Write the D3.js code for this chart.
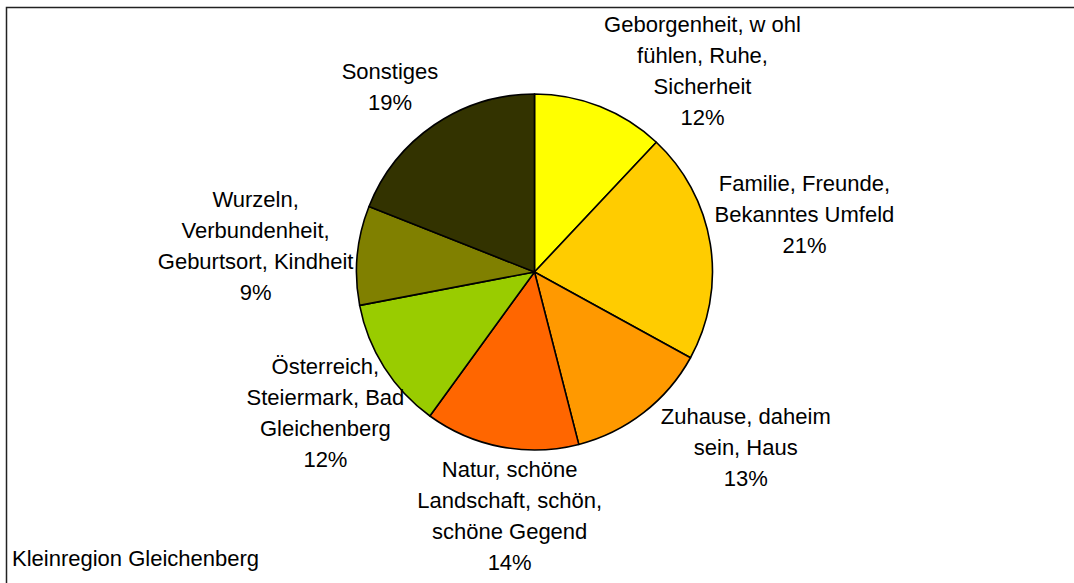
<!DOCTYPE html>
<html>
<head>
<meta charset="utf-8">
<script src="https://cdn.jsdelivr.net/npm/d3@7"></script>
<style>
  html, body { margin: 0; padding: 0; background: #fff; }
  svg { display: block; }
  text { font-family: "Liberation Sans", Arial, sans-serif; font-size: 22px; fill: #000; }
</style>
</head>
<body>
<svg id="chart" width="1074" height="583"></svg>
<script>
// Categories (each entry is one label line) and their shares in percent
const categories = [
  ["Geborgenheit, w ohl", "fühlen, Ruhe,", "Sicherheit"],
  ["Familie, Freunde,", "Bekanntes Umfeld"],
  ["Zuhause, daheim", "sein, Haus"],
  ["Natur, schöne", "Landschaft, schön,", "schöne Gegend"],
  ["Österreich,", "Steiermark, Bad", "Gleichenberg"],
  ["Wurzeln,", "Verbundenheit,", "Geburtsort, Kindheit"],
  ["Sonstiges"]
];
const shares = [12, 21, 13, 14, 12, 9, 19];
const sliceColors = ["#FFFF00", "#FFCC00", "#FF9900", "#FF6600", "#99CC00", "#808000", "#333300"];
const regionName = "Kleinregion Gleichenberg";

// Layout
const W = 1074, H = 583;
const cx = 534.5, cy = 272, R = 178;
const labelRadius = 250, lineHeight = 31;
// label shifts away from the plain radial spot so the blocks stay inside the frame
const labelShift = [[76, 31], [23, -19], [58, -22], [22, -2], [2, 7], [-30, -3], [-4, 22]];

const svg = d3.select("#chart");

// chart frame (continues past the right and bottom edges)
svg.append("rect")
  .attr("x", 6.5).attr("y", 7.5)
  .attr("width", W + 20).attr("height", H + 20)
  .attr("fill", "#fff")
  .attr("stroke", "#222")
  .attr("stroke-width", 1.5);

const pie = d3.pie().sort(null).value(d => d).startAngle(0).endAngle(2 * Math.PI);
const arcs = pie(shares);
const arc = d3.arc().innerRadius(0).outerRadius(R);
const labelArc = d3.arc().innerRadius(labelRadius).outerRadius(labelRadius);

const g = svg.append("g").attr("transform", `translate(${cx},${cy})`);

g.selectAll("path.slice")
  .data(arcs)
  .join("path")
  .attr("class", "slice")
  .attr("d", arc)
  .attr("fill", (d, i) => sliceColors[i])
  .attr("stroke", "#000")
  .attr("stroke-width", 1.6)
  .attr("stroke-linejoin", "round");

// data labels: category lines followed by the percentage
const labels = g.selectAll("g.label")
  .data(arcs)
  .join("g")
  .attr("class", "label")
  .attr("transform", (d, i) => {
    const [x, y] = labelArc.centroid(d);
    return `translate(${x + labelShift[i][0]},${y + labelShift[i][1]})`;
  });

labels.each(function (d, i) {
  const lines = categories[i].concat([d3.format("d")(shares[i]) + "%"]);
  const top = -(lines.length - 1) * lineHeight / 2;
  d3.select(this).selectAll("text")
    .data(lines)
    .join("text")
    .attr("text-anchor", "middle")
    .attr("x", 0)
    .attr("y", (t, k) => top + k * lineHeight)
    .attr("dy", "0.35em")
    .text(t => t);
});

// region caption at the bottom left
svg.append("text")
  .attr("x", 12)
  .attr("y", 565.5)
  .text(regionName);
</script>
</body>
</html>
